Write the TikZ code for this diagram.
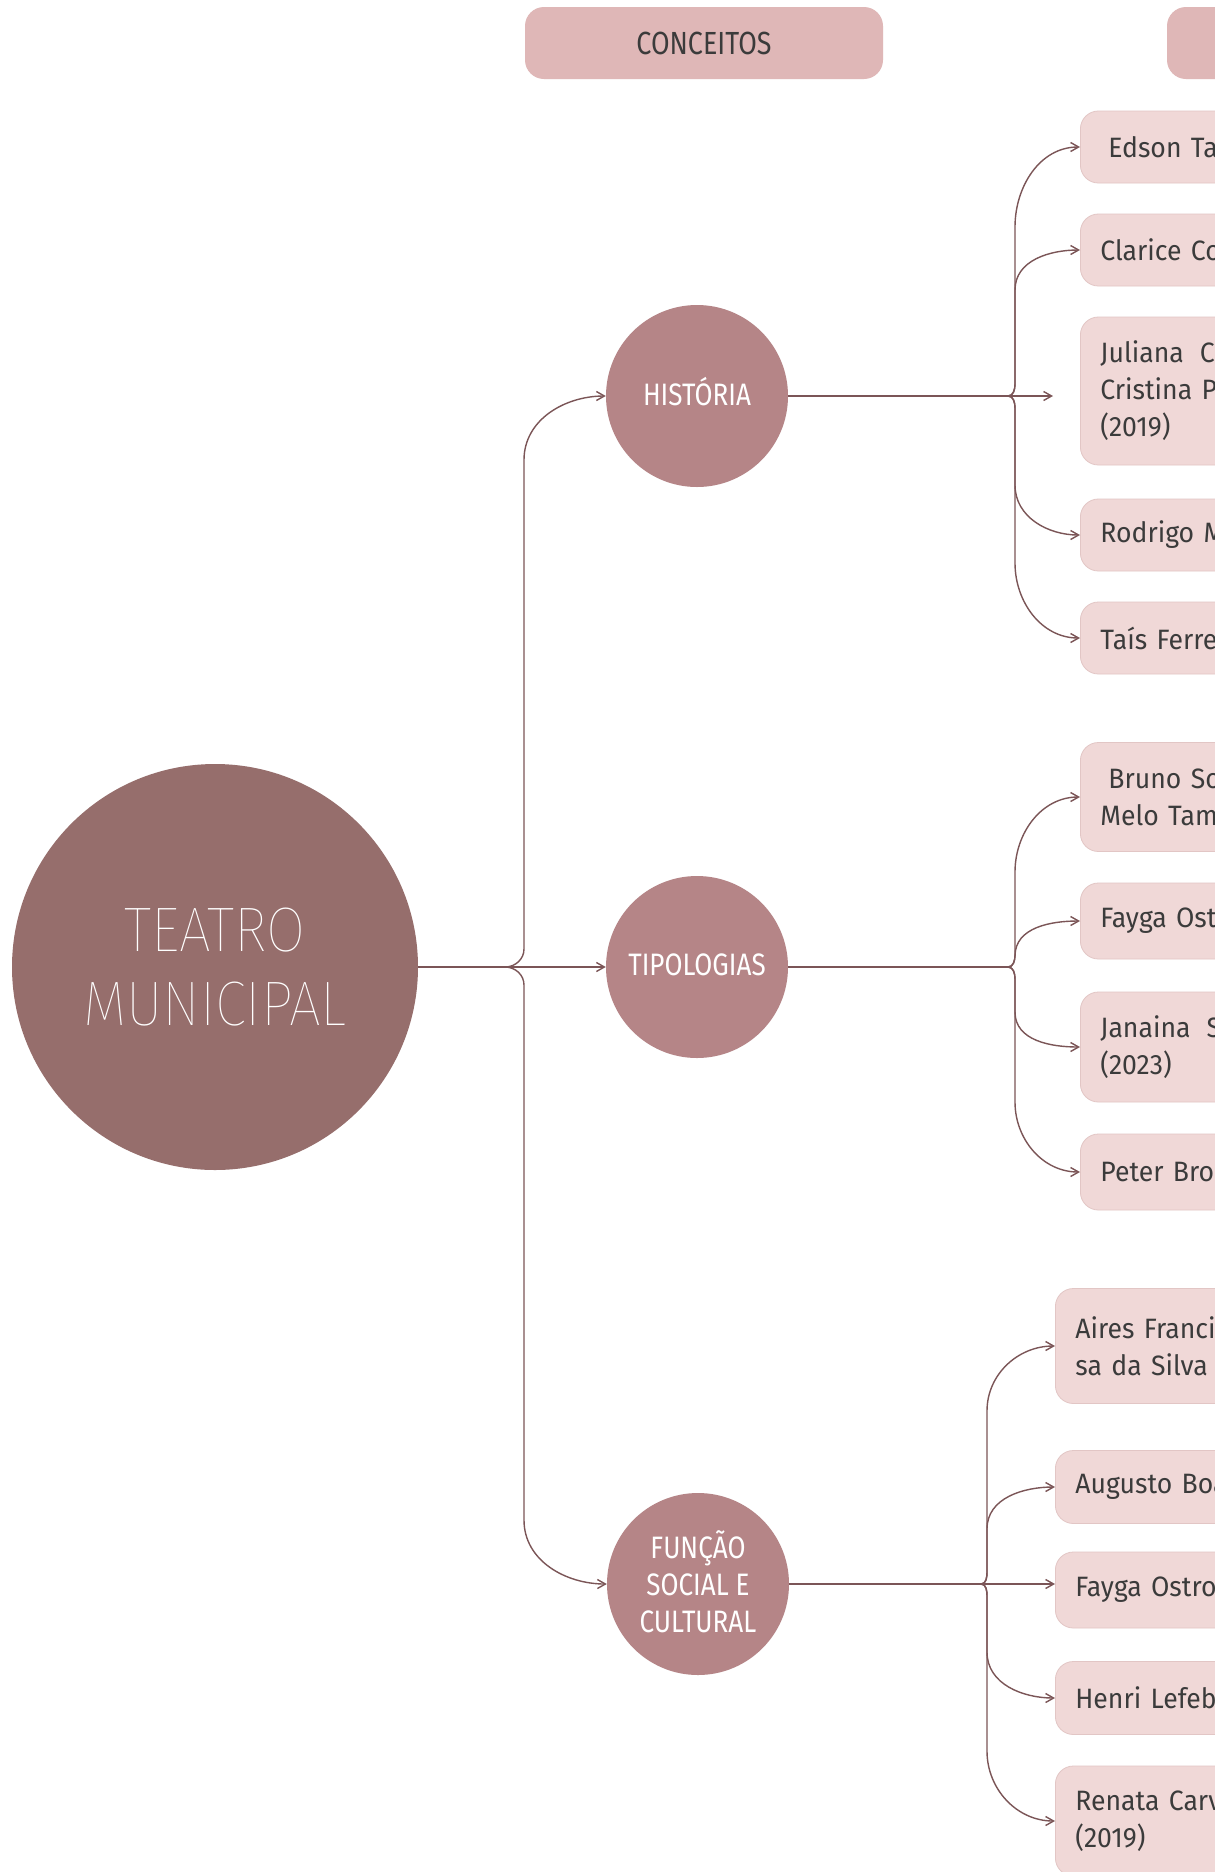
\documentclass[tikz,border=0pt]{standalone}
\usepackage{fontspec}
\setmainfont{Fira Sans}[FakeStretch=0.95]
\newfontfamily\condfont{Fira Sans}[FakeStretch=0.84]
\newfontfamily\thinfont{Fira Sans}[UprightFont=* Thin,FakeStretch=0.9]
\usepackage{tikz}
\usetikzlibrary{arrows.meta,calc}
\definecolor{maincirc}{HTML}{966E6C}
\definecolor{subcirc}{HTML}{B58587}
\definecolor{headfill}{HTML}{DFB7B7}
\definecolor{reffill}{HTML}{F0D8D7}
\definecolor{refline}{HTML}{E2C6C5}
\definecolor{linkcol}{HTML}{7B5557}
\definecolor{textgray}{HTML}{3B3B3B}
\tikzset{
  link/.style={draw=linkcol,line width=1.4pt},
  tip/.style={-{Straight Barb[length=8pt,width=9pt]}},
  maintopic/.style={circle,fill=maincirc,minimum size=406pt,inner sep=0pt,text=white,align=center,font=\thinfont\fontsize{63}{74}\selectfont},
  subtopic/.style={circle,fill=subcirc,minimum size=182pt,inner sep=0pt,text=white,align=center,font=\condfont\fontsize{31}{37}\selectfont},
  header/.style={rounded corners=19pt,fill=headfill,minimum width=358pt,minimum height=72pt,text=textgray,font=\condfont\fontsize{32}{37}\selectfont},
  refbox/.style={rounded corners=18pt,fill=reffill,draw=refline,line width=0.8pt,anchor=west,text width=380pt,inner xsep=20pt,align=left,text=textgray,font=\fontsize{28}{37}\selectfont},
}
\begin{document}
\begin{tikzpicture}[x=1pt,y=1pt]
    \fill[white] (0,0) rectangle (1215,-1872);
    \useasboundingbox (0,0) rectangle (1215,-1872);
    \clip (0,0) rectangle (1215,-1872);

    \node[header] (h1) at (704,-43) {CONCEITOS};
    \node[header] (h2) at (1346,-43) {};

    \node[maintopic] (tm) at (215,-967) {TEATRO\\MUNICIPAL};
    \node[subtopic] (hi) at (697,-396) {};
    \node[subtopic] (tp) at (697,-967) {};
    \node[subtopic] (fs) at (698,-1584) {};
    \node[subtopic,fill=none,minimum size=0pt] (hil) at ([yshift=4pt]hi) {HISTÓRIA};
    \node[subtopic,fill=none,minimum size=0pt] (tpl) at ([yshift=2pt]tp) {TIPOLOGIAS};
    \node[subtopic,fill=none,minimum size=0pt] (fsl) at ([yshift=2pt]fs) {FUNÇÃO\\SOCIAL E\\CULTURAL};

    \foreach\n/\y/\h/\t in{ed/147/72/{\hspace*{8pt}Edson Ta},cl/250/72/{Clarice Co},
        ju/391/148/{Juliana\hspace{16pt}C\\Cristina P\\(2019)},ro/535/72/{Rodrigo M},ta/638/72/{Taís Ferre},
        br/797/109/{\hspace*{8pt}Bruno So\\Melo Tama},fa/921/76/{Fayga Ost},
        ja/1047/110/{Janaina\hspace{16pt}S\\(2023)},pe/1172/76/{Peter Broo}}{
        \node[refbox,minimum height=\h] (\n) at (1080,-\y) {\t};
    }
    \foreach\n/\y/\h/\t in{ai/1346/115/{Aires Franci\\sa da Silva e},au/1487/73/{Augusto Boa},
        fo/1590/76/{Fayga Ostro},he/1698/73/{Henri Lefeb},rn/1821/110/{Renata Carv\\(2019)}}{
        \node[refbox,minimum height=\h] (\n) at (1055,-\y) {\t};
    }

    \coordinate (hubM) at (505,-967);
    \coordinate (vM) at (524,0);
    \coordinate (hubH) at (1008,-396);
    \coordinate (vH) at (1015,0);
    \coordinate (hend) at (1053,-396);
    \coordinate (hubT) at (1008,-967);
    \coordinate (vT) at (1015,0);
    \coordinate (hubF) at (981,-1584);
    \coordinate (vF) at (987,0);

    \draw[link,tip] (tm) -- (tp);
    \draw[link,tip] (hi) -- (hend);
    \draw[link] (tp) -- (hubT);
    \draw[link,tip] (fs) -- (fs -| fo.west);

    \foreach\n/\s/\sp in{hi/1/64,fs/-1/64}{
        \pgfmathsetmacro\ain{-90*\s}
        \pgfmathsetmacro\aout{90*\s}
        \draw[link,tip] (hubM) to[out=0,in=\ain] ++(19,18*\s) -- ($(\n.west -| vM)+(0,-\sp*\s)$) to[out=\aout,in=180] (\n.west);
    }
    \foreach\n/\s/\sp in{ed/1/80,cl/1/40,ro/-1/50,ta/-1/75}{
        \pgfmathsetmacro\ain{-90*\s}
        \pgfmathsetmacro\aout{90*\s}
        \draw[link,tip] (hubH) to[out=0,in=\ain] ++(7,12*\s) -- ($(\n.west -| vH)+(0,-\sp*\s)$) to[out=\aout,in=180] (\n.west);
    }
    \foreach\n/\s/\sp in{br/1/75,fa/1/35,ja/-1/35,pe/-1/70}{
        \pgfmathsetmacro\ain{-90*\s}
        \pgfmathsetmacro\aout{90*\s}
        \draw[link,tip] (hubT) to[out=0,in=\ain] ++(7,12*\s) -- ($(\n.west -| vT)+(0,-\sp*\s)$) to[out=\aout,in=180] (\n.west);
    }
    \foreach\n/\s/\sp in{ai/1/65,au/1/42,he/-1/46,rn/-1/70}{
        \pgfmathsetmacro\ain{-90*\s}
        \pgfmathsetmacro\aout{90*\s}
        \draw[link,tip] (hubF) to[out=0,in=\ain] ++(6,12*\s) -- ($(\n.west -| vF)+(0,-\sp*\s)$) to[out=\aout,in=180] (\n.west);
    }
\end{tikzpicture}
\end{document}
